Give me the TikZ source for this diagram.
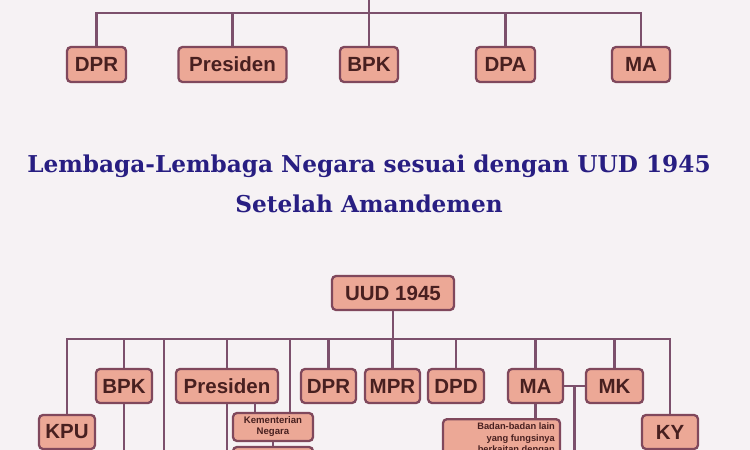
\documentclass[tikz,border=0pt]{standalone}
\usepackage{fontspec}
\setmainfont{Liberation Sans}
\newfontfamily\titlefont{DejaVu Serif}
\usetikzlibrary{calc}
\definecolor{bgcol}{RGB}{246,242,244}
\definecolor{boxfill}{RGB}{236,168,150}
\definecolor{boxline}{RGB}{128,72,92}
\definecolor{txtcol}{RGB}{72,32,32}
\definecolor{linecol}{RGB}{124,80,108}
\definecolor{titlecol}{RGB}{40,30,130}
\tikzset{
  orgbox/.style={draw=boxline, line width=2.3pt, fill=boxfill, rounded corners=4pt,
    text=txtcol, inner sep=0pt, font=\bfseries\fontsize{20.5}{20}\selectfont},
  smallbox/.style={orgbox, font=\bfseries\fontsize{9.6}{11}\selectfont, align=center},
  conn/.style={draw=linecol, line width=2.4pt},
  titletext/.style={text=titlecol, font=\titlefont\bfseries\fontsize{23.2}{40}\selectfont, align=center, inner sep=0pt}
}
\begin{document}
\begin{tikzpicture}[x=1pt,y=-1pt]
\useasboundingbox (0,0) rectangle (750,450);
\fill[bgcol] (0,0) rectangle (750,450);
\clip (0,0) rectangle (750,450);

% ---------- top chart ----------
\node[orgbox, minimum width=59, minimum height=35] (dpr1) at (96.5,64.5) {DPR};
\node[orgbox, minimum width=108, minimum height=35] (pres1) at (232.5,64.5) {Presiden};
\node[orgbox, minimum width=58, minimum height=35] (bpk1) at (369,64.5) {BPK};
\node[orgbox, minimum width=59, minimum height=35] (dpa1) at (505.5,64.5) {DPA};
\node[orgbox, minimum width=58, minimum height=35] (ma1) at (641,64.5) {MA};
\coordinate (ttop) at (369,-2);
\coordinate (tbus) at (369,13);
\draw[conn] (dpr1.north) |- (tbus) -| (ma1.north);
\draw[conn] (ttop) -- (bpk1.north);
\draw[conn] (pres1.north) -- (pres1.north |- tbus);
\draw[conn] (dpa1.north) -- (dpa1.north |- tbus);

% ---------- title ----------
\node[titletext] (title) at (369,184) {Lembaga-Lembaga Negara sesuai dengan UUD 1945\\Setelah Amandemen};

% ---------- bottom chart ----------
\node[orgbox, minimum width=122, minimum height=34] (uud) at (393,293) {UUD 1945};
\node[orgbox, minimum width=56, minimum height=34] (bpk2) at (124,386) {BPK};
\node[orgbox, minimum width=102, minimum height=34] (pres2) at (227,386) {Presiden};
\node[orgbox, minimum width=55, minimum height=34] (dpr2) at (328.5,386) {DPR};
\node[orgbox, minimum width=55, minimum height=34] (mpr2) at (392.5,386) {MPR};
\node[orgbox, minimum width=56, minimum height=34] (dpd2) at (456,386) {DPD};
\node[orgbox, minimum width=55, minimum height=34] (ma2) at (535.5,386) {MA};
\node[orgbox, minimum width=57, minimum height=34] (mk2) at (614.5,386) {MK};
\node[orgbox, minimum width=56, minimum height=34] (kpu) at (67,432) {KPU};
\node[orgbox, minimum width=56, minimum height=34] (ky) at (670,432) {KY};
\node[smallbox, minimum width=80, minimum height=28] (kem) at (273,427) {Kementerian\\Negara};
\node[orgbox, minimum width=80, minimum height=28] (kem2) at (273,461) {};
\node[orgbox, minimum width=117, minimum height=48, anchor=north] (badan) at (501.5,418) {};
\node[font=\bfseries\fontsize{9.3}{11.5}\selectfont, text=txtcol, align=right, anchor=north east, inner sep=0pt] (badantxt) at (555,423) {Badan-badan lain\\yang fungsinya\\berkaitan dengan};

\coordinate (bbus) at (393,339);
\coordinate (bend) at (0,455);
\draw[conn] (uud.south) -- (uud.south |- bbus);
\draw[conn] (kpu.north) |- (bbus) -| (ky.north);
\foreach \n in {bpk2,pres2,dpr2,mpr2,dpd2,ma2,mk2}
  \draw[conn] (\n.north) -- (\n.north |- bbus);
\coordinate (l164) at (164,455);
\draw[conn] (l164) -- (l164 |- bbus);
\coordinate (kx) at (290,339);
\draw[conn] (kx) -- (kx |- kem.north);
\coordinate (pk) at (255,403);
\draw[conn] (pk) -- (pk |- kem.north);
\draw[conn] (pres2.south) -- (pres2.south |- bend);
\draw[conn] (bpk2.south) -- (bpk2.south |- bend);
\draw[conn] (kem.south) -- (kem2.north);
\draw[conn] (ma2.south) -- (ma2.south |- badan.north);
\draw[conn] (ma2.east) -- (mk2.west);
\coordinate (mmk) at ($(ma2.east)!0.5!(mk2.west)$);
\draw[conn] (mmk) -- (mmk |- bend);
\end{tikzpicture}
\end{document}
